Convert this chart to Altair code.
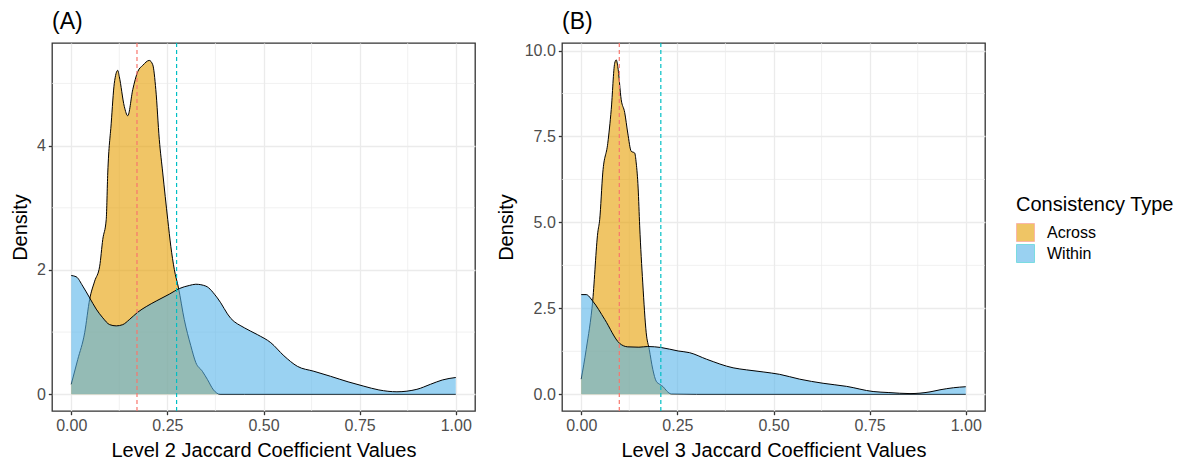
import altair as alt
import pandas as pd

# ---------------- data ----------------
TYPES = ["Across", "Within"]
FILL_COLORS = ["#E69F00", "#56B4E9"]
MEAN_COLORS = ["#F8766D", "#00BFC4"]

# Panel A (Level 2)
A_across_x = [0, 0.017, 0.035, 0.048, 0.061, 0.074, 0.082, 0.091, 0.095, 0.104, 0.112, 0.121, 0.125,
              0.138, 0.147, 0.16, 0.173, 0.186, 0.203, 0.212, 0.22, 0.229, 0.238, 0.251, 0.259, 0.268,
              0.279, 0.294, 0.311, 0.324, 0.341, 0.354, 0.37, 0.387, 0.45, 1.0]
A_across_y = [0.16, 0.56, 0.99, 1.53, 1.82, 2.06, 2.49, 2.81, 3.56, 4.36, 5.0, 5.21, 5.11,
              4.63, 4.48, 4.9, 5.19, 5.29, 5.37, 5.3, 4.9, 4.1, 3.56, 2.81, 2.38, 2.01,
              1.71, 1.2, 0.78, 0.51, 0.37, 0.24, 0.07, 0.0, 0.0, 0.0]
A_within_x = [0, 0.013, 0.03, 0.048, 0.065, 0.082, 0.1, 0.117, 0.134, 0.151, 0.173, 0.195, 0.221,
              0.255, 0.281, 0.307, 0.324, 0.35, 0.38, 0.415, 0.45, 0.484, 0.519, 0.553, 0.588,
              0.631, 0.674, 0.72, 0.761, 0.8, 0.847, 0.899, 0.934, 0.965, 1.0]
A_within_y = [1.91, 1.89, 1.74, 1.55, 1.37, 1.23, 1.12, 1.10, 1.12, 1.2, 1.32, 1.41, 1.5,
              1.61, 1.70, 1.75, 1.77, 1.74, 1.55, 1.22, 1.07, 0.96, 0.83, 0.62, 0.45,
              0.37, 0.29, 0.2, 0.13, 0.07, 0.04, 0.08, 0.16, 0.23, 0.27]
A_means = [0.171, 0.274]

# Panel B (Level 3)
B_across_x = [0, 0.013, 0.03, 0.043, 0.048, 0.056, 0.069, 0.078, 0.087, 0.091, 0.095, 0.104, 0.113,
              0.121, 0.13, 0.139, 0.143, 0.148, 0.152, 0.16, 0.169, 0.177, 0.186, 0.195, 0.204,
              0.213, 0.222, 0.234, 0.3, 1.0]
B_across_y = [0.44, 1.31, 2.74, 4.7, 5.08, 6.44, 7.3, 8.28, 9.63, 9.73, 9.54, 8.57, 8.2,
              7.6, 7.07, 7.02, 6.73, 6.0, 4.9, 3.24, 1.79, 1.3, 0.73, 0.38, 0.29,
              0.22, 0.1, 0.01, 0.0, 0.0]
B_within_x = [0, 0.013, 0.03, 0.061, 0.1, 0.121, 0.15, 0.173, 0.208, 0.252, 0.282, 0.326, 0.395,
              0.43, 0.473, 0.516, 0.568, 0.629, 0.69, 0.759, 0.8, 0.855, 0.907, 0.933, 0.968, 1.0]
B_within_y = [2.9, 2.9, 2.71, 2.18, 1.48, 1.38, 1.37, 1.39, 1.36, 1.26, 1.21, 1.02, 0.77,
              0.71, 0.65, 0.58, 0.44, 0.32, 0.23, 0.08, 0.05, 0.02, 0.07, 0.13, 0.19, 0.22]
B_means = [0.099, 0.207]

X_TICKS = [0, 0.25, 0.5, 0.75, 1.0]
X_MINOR = [0.125, 0.375, 0.625, 0.875]
A_Y_TICKS = [0, 2, 4]
A_Y_MINOR = [1, 3, 5]
B_Y_TICKS = [0, 2.5, 5, 7.5, 10]
B_Y_MINOR = [1.25, 3.75, 6.25, 8.75]

FONT = "Liberation Sans"
PW, PH = 423, 368


def curves_df(across_x, across_y, within_x, within_y):
    rows = []
    for t, xs, ys in [("Across", across_x, across_y), ("Within", within_x, within_y)]:
        for x, y in zip(xs, ys):
            rows.append({"x": x, "density": y, "base": 0.0, "type": t})
    return pd.DataFrame(rows)


def panel(title, xtitle, df, means, yticks, yminor, ydomain, yfmt, ytitle_x):
    xscale = alt.Scale(domain=[-0.05, 1.05], nice=False, zero=False)
    yscale = alt.Scale(domain=ydomain, nice=False, zero=False)
    xaxis = alt.Axis(values=X_TICKS, format=".2f", title=xtitle, titlePadding=7)
    yaxis = alt.Axis(values=yticks, format=yfmt, title="Density", titleX=ytitle_x)
    fill = alt.Fill("type:N", scale=alt.Scale(domain=TYPES, range=FILL_COLORS),
                    legend=alt.Legend(title="Consistency Type"))

    minor_x = alt.Chart(pd.DataFrame({"v": X_MINOR})).mark_rule(
        color="#EBEBEB", strokeWidth=0.7
    ).encode(x=alt.X("v:Q", scale=xscale, axis=xaxis))
    minor_y = alt.Chart(pd.DataFrame({"v": yminor})).mark_rule(
        color="#EBEBEB", strokeWidth=0.7
    ).encode(y=alt.Y("v:Q", scale=yscale, axis=yaxis))

    layers = [minor_x, minor_y]
    base = alt.Chart(df)
    for t in TYPES:
        sub = base.transform_filter(alt.datum.type == t)
        area = sub.mark_area(fillOpacity=0.6, interpolate="monotone").encode(
            x=alt.X("x:Q", scale=xscale, axis=xaxis),
            y=alt.Y("density:Q", scale=yscale, axis=yaxis),
            y2="base:Q",
            fill=fill,
        )
        line = sub.mark_line(color="black", strokeWidth=1.0, interpolate="monotone").encode(
            x=alt.X("x:Q", scale=xscale, axis=xaxis),
            y=alt.Y("density:Q", scale=yscale, axis=yaxis),
        )
        layers += [area, line]

    mean_df = pd.DataFrame({"m": means, "type": TYPES})
    vlines = alt.Chart(mean_df).mark_rule(strokeDash=[4, 3], strokeWidth=1.2).encode(
        x=alt.X("m:Q", scale=xscale, axis=xaxis),
        stroke=alt.Stroke("type:N", scale=alt.Scale(domain=TYPES, range=MEAN_COLORS), legend=None),
    )
    layers.append(vlines)

    return alt.layer(*layers).properties(
        width=PW, height=PH,
        title=alt.Title(title, anchor="start", frame="group", fontSize=23, font=FONT,
                        fontWeight="normal", color="black", offset=8),
    )


dfA = curves_df(A_across_x, A_across_y, A_within_x, A_within_y)
dfB = curves_df(B_across_x, B_across_y, B_within_x, B_within_y)

pA = panel("(A)", "Level 2 Jaccard Coefficient Values", dfA, A_means, A_Y_TICKS, A_Y_MINOR,
           [-0.269, 5.65], "d", -22)
pB = panel("(B)", "Level 3 Jaccard Coefficient Values", dfB, B_means, B_Y_TICKS, B_Y_MINOR,
           [-0.4865, 10.22], ".1f", -46)

chart = alt.hconcat(pA, pB, spacing=19).resolve_scale(
    x="independent", y="independent", fill="shared", stroke="shared"
).properties(
    padding={"left": 9, "top": 10, "right": 5, "bottom": 5}
).configure_view(
    stroke="#333333", strokeWidth=1.3
).configure_axis(
    domain=False, grid=True, gridColor="#EBEBEB", gridWidth=1.3,
    tickColor="#333333", tickSize=3.7, tickWidth=1.3,
    labelColor="#4D4D4D", labelFontSize=16, labelFont=FONT, labelPadding=3,
    titleFont=FONT, titleFontSize=20, titleFontWeight="normal", titleColor="black",
).configure_legend(
    orient="none", legendX=964, legendY=152, padding=0,
    titleFont=FONT, titleFontSize=20, titleFontWeight="normal", titleColor="black",
    titlePadding=8, labelFont=FONT, labelFontSize=16, labelColor="black", labelOffset=12,
    symbolType="square", symbolSize=324, symbolStrokeColor="black", symbolStrokeWidth=0.8,
    rowPadding=-5.5, symbolOpacity=0.6,
)

chart.save("out.html", embed_options={"renderer": "svg", "actions": False})
